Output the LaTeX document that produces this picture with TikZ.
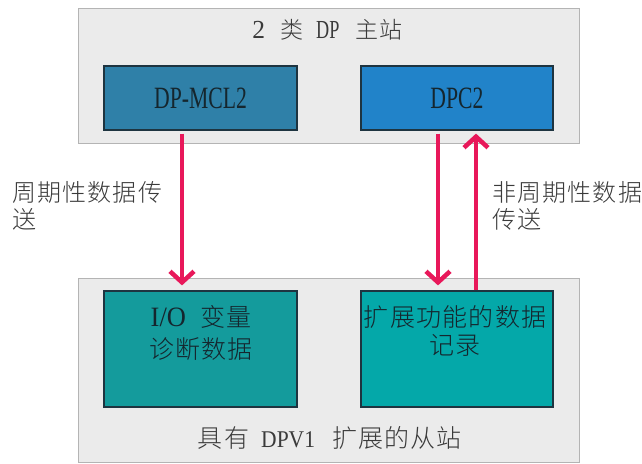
\documentclass[tikz,border=0pt]{standalone}
\usepackage{fontspec}
\usepackage{graphicx}
\setmainfont{Liberation Serif}[FakeStretch=0.7]
\newfontfamily\cjk{Noto Sans CJK SC}[UprightFont={* Light},LetterSpace=5]
\newcommand{\zh}[1]{{\cjk #1}}
\newcommand{\wlat}[2]{\scalebox{#1}[1]{#2}}
\usetikzlibrary{arrows.meta}
\definecolor{outerfill}{HTML}{EBEBEB}
\definecolor{outerdraw}{HTML}{B4B4B4}
\definecolor{mclfill}{HTML}{2F80A8}
\definecolor{dpcfill}{HTML}{2183C9}
\definecolor{iofill}{HTML}{149B9C}
\definecolor{recfill}{HTML}{04A8A9}
\definecolor{innerdraw}{HTML}{1E3440}
\definecolor{arrowred}{HTML}{E8185A}
\definecolor{labeltext}{HTML}{3A3A3A}
\definecolor{boxtext}{HTML}{15262E}
\tikzset{
  outerbox/.style={draw=outerdraw, fill=outerfill, line width=1pt, inner sep=0pt},
  innerbox/.style={draw=innerdraw, line width=1.2pt, inner sep=0pt},
  flowarrow/.style={draw=arrowred, line width=4.5pt, -{Straight Barb[length=11pt,width=24pt]}},
  titletext/.style={text=labeltext, font=\fontsize{23}{28}\selectfont, inner sep=0pt},
  labeltxt/.style={text=labeltext, font=\fontsize{24}{27}\selectfont, align=left, inner sep=0pt},
  boxlabel/.style={text=boxtext, font=\fontsize{25}{32}\selectfont, align=center, inner sep=0pt}
}
\begin{document}
\begin{tikzpicture}[x=1pt,y=-1pt]
\useasboundingbox (0,0) rectangle (642,463);
\fill[white] (0,0) rectangle (642,463);
% outer boxes
\node[outerbox, minimum width=501pt, minimum height=135pt] (master) at (328.5,75.5) {};
\node[outerbox, minimum width=501pt, minimum height=184pt] (slave) at (328.5,370.5) {};
\node[titletext] (mastertitle) at (327.5,30) {{\fontsize{26}{28}\selectfont\wlat{1.4}{2}}\hspace{15pt}\zh{类}\hspace{13pt}{\fontsize{26}{28}\selectfont DP}\hspace{16pt}\zh{主站}};
\node[titletext, font=\fontsize{25}{28}\selectfont] (slavetitle) at (330,438) {\zh{具有}\hspace{12pt}{\fontsize{24}{28}\selectfont\wlat{1.28}{DPV1}}\hspace{17pt}\zh{扩展的从站}};
% inner boxes
\node[innerbox, fill=mclfill, minimum width=193pt, minimum height=64pt] (mcl) at (200.5,98) {};
\node[innerbox, fill=dpcfill, minimum width=192pt, minimum height=64pt] (dpc) at (457,98) {};
\node[innerbox, fill=iofill, minimum width=193pt, minimum height=116pt] (io) at (200.5,349) {};
\node[innerbox, fill=recfill, minimum width=192pt, minimum height=116pt] (rec) at (457,349) {};
\node[boxlabel, font=\fontsize{31}{33}\selectfont] (mcltext) at (mcl) {DP-MCL2};
\node[boxlabel, font=\fontsize{31}{33}\selectfont] (dpctext) at (dpc) {DPC2};
\node[boxlabel, anchor=north] (iotext) at (201,305) {{\fontsize{28}{32}\selectfont\wlat{1.35}{I/O}}\hspace{14pt}\zh{变量}\\\zh{诊断数据}};
\node[boxlabel, anchor=north] (rectext) at (455,305) {\zh{扩展功能的数据}\\[-4pt]\zh{记录}};
% arrows
\draw[flowarrow] ([xshift=-18.5pt,yshift=-3pt]mcl.south) -- ([xshift=-18.5pt,yshift=5pt]io.north);
\draw[flowarrow] ([xshift=-19pt,yshift=-3pt]dpc.south) -- ([xshift=-19pt,yshift=5pt]rec.north);
\draw[flowarrow] ([xshift=19pt]rec.north) -- ([xshift=19pt,yshift=-3pt]dpc.south);
% labels
\node[labeltxt, anchor=north west] (cyclic) at (12,181) {\zh{周期性数据传}\\\zh{送}};
\node[labeltxt, anchor=north west] (acyclic) at (492,181) {\zh{非周期性数据}\\\zh{传送}};
\end{tikzpicture}
\end{document}
